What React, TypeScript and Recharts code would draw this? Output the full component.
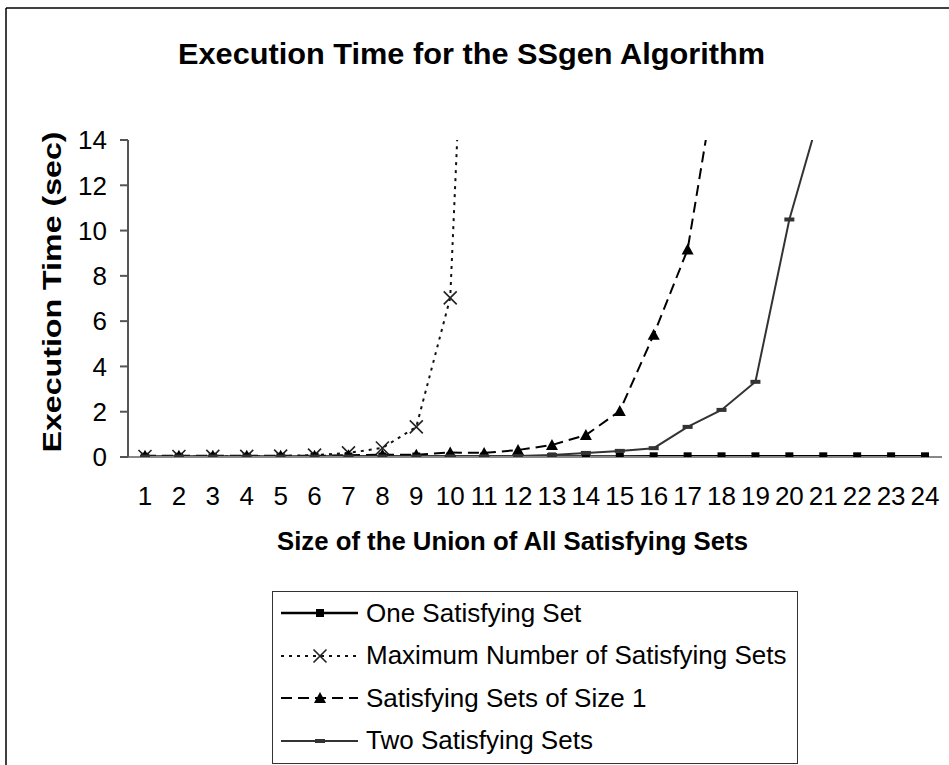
import { LineChart, Line, XAxis, YAxis, Legend, Label } from 'recharts';

// x categories: size of the union
const sizes = ['1', '2', '3', '4', '5', '6', '7', '8', '9', '10', '11', '12', '13', '14', '15', '16', '17', '18', '19', '20', '21', '22', '23', '24'];

// execution time (sec) per series
const oneSet = [0.01, 0.01, 0.01, 0.01, 0.01, 0.01, 0.02, 0.02, 0.02, 0.02, 0.02, 0.02, 0.02, 0.02, 0.02, 0.03, 0.03, 0.03, 0.03, 0.03, 0.03, 0.03, 0.03, 0.03];
const maxSets = [0.02, 0.02, 0.03, 0.03, 0.04, 0.08, 0.18, 0.4, 1.33, 7.03, 41];
const sizeOne = [0.05, 0.05, 0.05, 0.05, 0.05, 0.05, 0.08, 0.1, 0.1, 0.2, 0.18, 0.31, 0.53, 0.97, 2.03, 5.4, 9.16, 18.2];
const twoSets = [0.02, 0.02, 0.02, 0.02, 0.02, 0.02, 0.02, 0.02, 0.02, 0.03, 0.03, 0.04, 0.09, 0.18, 0.27, 0.39, 1.33, 2.08, 3.32, 10.49, 15.7];

const yTicks = [0, 2, 4, 6, 8, 10, 12, 14];

const FONT = '"Liberation Sans", Arial, Helvetica, sans-serif';

const data = sizes.map((s, i) => ({
  size: s,
  one: oneSet[i] ?? null,
  max: maxSets[i] ?? null,
  size1: sizeOne[i] ?? null,
  two: twoSets[i] ?? null,
}));

type Kind = 'square' | 'cross' | 'triangle' | 'dash';

const seriesOrder = ['one', 'max', 'size1', 'two'];

const seriesStyle: Record<string, { stroke: string; width: number; dash?: string; marker: Kind }> = {
  one: { stroke: '#000', width: 2.5, marker: 'square' },
  max: { stroke: '#111', width: 2, dash: '3 5', marker: 'cross' },
  size1: { stroke: '#000', width: 2, dash: '11 6', marker: 'triangle' },
  two: { stroke: '#333', width: 2, marker: 'dash' },
};

function drawMarker(kind: Kind, cx: number, cy: number, key: string) {
  switch (kind) {
    case 'square':
      return <rect key={key} x={cx - 4} y={cy - 4} width={8} height={8} fill="#000" />;
    case 'cross':
      return (
        <path
          key={key}
          d={`M${cx - 6.5},${cy - 6.5}L${cx + 6.5},${cy + 6.5}M${cx + 6.5},${cy - 6.5}L${cx - 6.5},${cy + 6.5}`}
          stroke="#222"
          strokeWidth={1.6}
          fill="none"
        />
      );
    case 'triangle':
      return <path key={key} d={`M${cx},${cy - 6}L${cx + 6},${cy + 5}L${cx - 6},${cy + 5}Z`} fill="#000" />;
    default:
      return <rect key={key} x={cx - 5} y={cy - 2} width={10} height={4} fill="#333" />;
  }
}

const dotFor = (kind: Kind) => (p: any) => {
  const key = `${kind}-${p.index}`;
  if (p.cx == null || p.cy == null || p.value == null) return <g key={key} />;
  return drawMarker(kind, p.cx, p.cy, key);
};

const renderLegend = (props: any) => {
  const payload = [...(props.payload || [])].sort(
    (a: any, b: any) => seriesOrder.indexOf(a.dataKey) - seriesOrder.indexOf(b.dataKey)
  );
  return (
    <div
      style={{
        width: 526,
        height: 173,
        border: '1.5px solid #333',
        boxSizing: 'border-box',
        background: '#fff',
        paddingLeft: 8,
        paddingTop: 0,
      }}
    >
      {payload.map((entry: any) => {
        const st = seriesStyle[entry.dataKey];
        return (
          <div key={entry.dataKey} style={{ height: 42.5, display: 'flex', alignItems: 'center' }}>
            <svg width={80} height={20} style={{ display: 'block' }}>
              <line x1={0} y1={10} x2={77} y2={10} stroke={st.stroke} strokeWidth={st.width} strokeDasharray={st.dash} />
              {drawMarker(st.marker, 39, 10, 'm')}
            </svg>
            <span style={{ fontFamily: FONT, fontSize: 26, color: '#000', marginLeft: 5, whiteSpace: 'nowrap' }}>
              {entry.value}
            </span>
          </div>
        );
      })}
    </div>
  );
};

export default function App() {
  const tickFont = { fontSize: 26, fill: '#000', fontFamily: FONT };
  return (
    <div style={{ position: 'absolute', left: 0, top: 0, width: 949, height: 765, background: '#fff', overflow: 'hidden' }}>
      <LineChart width={949} height={765} data={data} margin={{ top: 140, right: 7, bottom: 248, left: 68 }}>
        <XAxis
          dataKey="size"
          height={60}
          interval={0}
          padding={{ left: 17, right: 17 }}
          tickLine={false}
          tickSize={0}
          tickMargin={30}
          tick={tickFont}
          axisLine={{ stroke: '#888', strokeWidth: 2 }}
        >
          <Label
            content={() => (
              <text
                x={277}
                y={543}
                dominantBaseline="middle"
                textLength={471}
                lengthAdjust="spacingAndGlyphs"
                style={{ fontFamily: FONT, fontSize: 25, fontWeight: 'bold', fill: '#000' }}
              >
                Size of the Union of All Satisfying Sets
              </text>
            )}
          />
        </XAxis>
        <XAxis
          xAxisId="top"
          dataKey="size"
          orientation="top"
          height={0}
          padding={{ left: 17, right: 17 }}
          tick={false}
          tickLine={false}
          axisLine={{ stroke: '#999', strokeWidth: 2 }}
        />
        <YAxis
          width={60}
          domain={[0, 14]}
          ticks={yTicks}
          allowDataOverflow
          interval={0}
          tickSize={8}
          tickMargin={13}
          tick={tickFont}
          tickLine={{ stroke: '#555', strokeWidth: 2 }}
          axisLine={{ stroke: '#555', strokeWidth: 2 }}
        >
          <Label
            content={() => (
              <text
                x={54}
                y={292}
                transform="rotate(-90 54 292)"
                textAnchor="middle"
                dominantBaseline="middle"
                textLength={321}
                lengthAdjust="spacingAndGlyphs"
                style={{ fontFamily: FONT, fontSize: 25, fontWeight: 'bold', fill: '#000' }}
              >
                Execution Time (sec)
              </text>
            )}
          />
        </YAxis>
        <YAxis
          yAxisId="right"
          orientation="right"
          width={0}
          domain={[0, 14]}
          tick={false}
          tickLine={false}
          axisLine={{ stroke: '#999', strokeWidth: 2 }}
        />
        <Legend
          layout="horizontal"
          verticalAlign="middle"
          align="center"
          content={renderLegend}
          wrapperStyle={{ left: 272, top: 591, width: 526 }}
        />
        <Line
          dataKey="one"
          name="One Satisfying Set"
          stroke={seriesStyle.one.stroke}
          strokeWidth={seriesStyle.one.width}
          dot={dotFor('square')}
          activeDot={false}
          isAnimationActive={false}
        />
        <Line
          dataKey="max"
          name="Maximum Number of Satisfying Sets"
          stroke={seriesStyle.max.stroke}
          strokeWidth={seriesStyle.max.width}
          strokeDasharray={seriesStyle.max.dash}
          dot={dotFor('cross')}
          activeDot={false}
          isAnimationActive={false}
        />
        <Line
          dataKey="size1"
          name="Satisfying Sets of Size 1"
          stroke={seriesStyle.size1.stroke}
          strokeWidth={seriesStyle.size1.width}
          strokeDasharray={seriesStyle.size1.dash}
          dot={dotFor('triangle')}
          activeDot={false}
          isAnimationActive={false}
        />
        <Line
          dataKey="two"
          name="Two Satisfying Sets"
          stroke={seriesStyle.two.stroke}
          strokeWidth={seriesStyle.two.width}
          dot={dotFor('dash')}
          activeDot={false}
          isAnimationActive={false}
        />
      </LineChart>
      <svg width={949} height={765} style={{ position: 'absolute', left: 0, top: 0, pointerEvents: 'none' }}>
        <line x1={6} y1={8} x2={6} y2={765} stroke="#000" strokeWidth={1.5} />
        <line x1={6} y1={8} x2={949} y2={8} stroke="#000" strokeWidth={1.5} />
        <text
          x={178}
          y={56}
          dominantBaseline="middle"
          textLength={587}
          lengthAdjust="spacingAndGlyphs"
          style={{ fontFamily: FONT, fontSize: 30, fontWeight: 'bold', fill: '#000' }}
        >
          Execution Time for the SSgen Algorithm
        </text>
      </svg>
    </div>
  );
}
